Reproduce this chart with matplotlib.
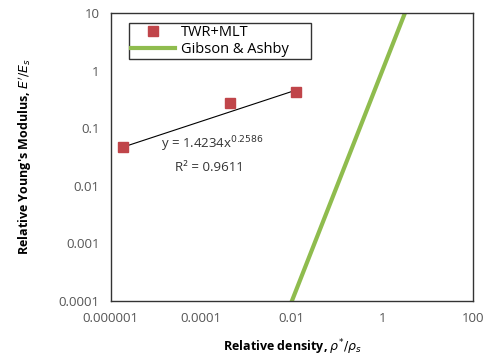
import numpy as np
import matplotlib
matplotlib.use('Agg')
import matplotlib.pyplot as plt

# data
density = [1.85e-6, 4.4e-4, 0.0123]
modulus = [0.047, 0.27, 0.43]
fit_a = 1.4234
fit_b = 0.2586
ga_x = [0.01, 3.1623]
xticks = [1e-6, 1e-4, 1e-2, 1, 100]
xticklabels = ['0.000001', '0.0001', '0.01', '1', '100']
yticks = [1e-4, 1e-3, 1e-2, 1e-1, 1, 10]
yticklabels = ['0.0001', '0.001', '0.01', '0.1', '1', '10']

plt.rcParams['font.family'] = ['Open Sans', 'DejaVu Sans']

fig = plt.figure(figsize=(4.86, 3.58), dpi=100)
ax = fig.add_axes([0.228, 0.159, 0.745, 0.805])

ax.plot(density, modulus, 's', color='#c0454a', ms=7, label='TWR+MLT', zorder=4)
xf = np.logspace(np.log10(density[0]), np.log10(density[-1]), 50)
ax.plot(xf, fit_a * xf ** fit_b, color='black', lw=0.8, zorder=3)
ax.plot(ga_x, np.array(ga_x) ** 2, color='#8fbc4e', lw=3, label='Gibson & Ashby', zorder=2)

ax.set_xscale('log')
ax.set_yscale('log')
ax.set_xlim(1e-6, 100)
ax.set_ylim(1e-4, 10)
ax.set_xticks(xticks)
ax.set_xticklabels(xticklabels)
ax.set_yticks(yticks)
ax.set_yticklabels(yticklabels)
ax.minorticks_off()
ax.tick_params(length=0, labelsize=9.5, labelcolor='#555555', pad=8)
for s in ax.spines.values():
    s.set_color('#333333')
    s.set_linewidth(1)

ax.text(1.3e-5, 0.052, 'y = 1.4234x$^{0.2586}$', fontsize=9.5, color='#333333', va='center')
ax.text(2.6e-5, 0.021, 'R² = 0.9611', fontsize=9.5, color='#333333', va='center')

leg = ax.legend(loc='upper left', bbox_to_anchor=(0.05, 0.965, 0.503, 0), mode='expand',
                fontsize=10.5, frameon=True, fancybox=False, edgecolor='black',
                borderpad=0.15, handlelength=3, labelspacing=0.1, borderaxespad=0,
                handletextpad=0.4)
leg.get_frame().set_linewidth(1)

ax.set_xlabel("Relative density, $\\rho^{*}/\\rho_s$", fontsize=9, fontweight='bold', labelpad=9)
ax.set_ylabel("Relative Young's Modulus, $E'/E_s$", fontsize=9, fontweight='bold', labelpad=18)

fig.savefig('out.png', dpi=100)
